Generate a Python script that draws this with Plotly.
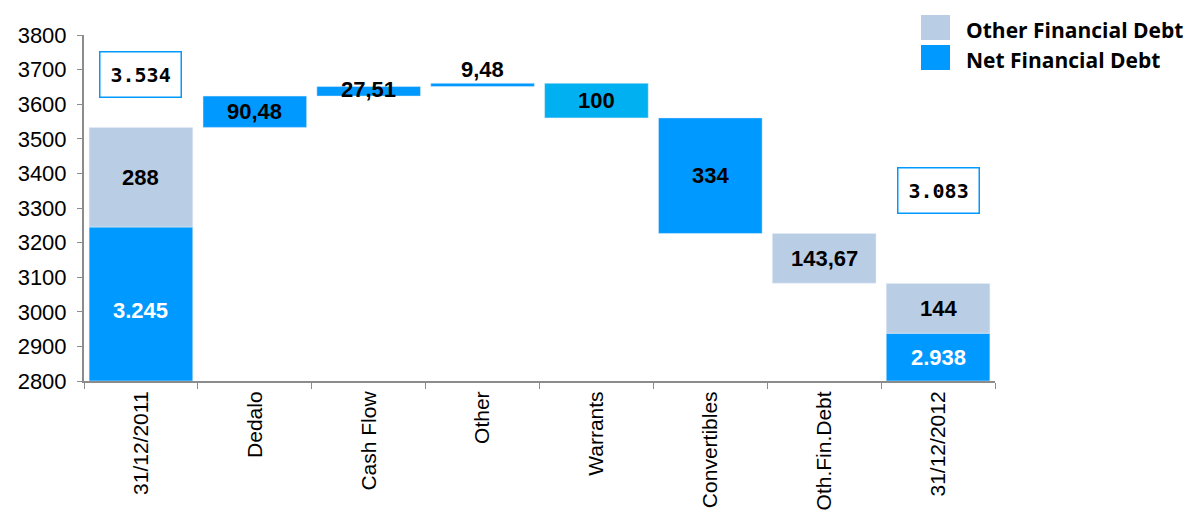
import plotly.graph_objects as go

categories = ["31/12/2011", "Dedalo", "Cash Flow", "Other", "Warrants",
              "Convertibles", "Oth.Fin.Debt", "31/12/2012"]
start_nfd = 3245
start_ofd = 288
start_total_label = "3.534"
changes = [90.48, 27.51, 9.48, -100, -334, -143.67]
change_labels = ["90,48", "27,51", "9,48", "100", "334", "143,67"]
end_nfd = 2938
end_ofd = 144
end_total_label = "3.083"
start_labels = ["3.245", "288"]
end_labels = ["2.938", "144"]

BLUE = "#0099FF"
LIGHT = "#B9CDE5"
CYAN = "#00B0F0"
change_colors = [BLUE, BLUE, BLUE, CYAN, BLUE, LIGHT]

axis_min = 2800

fig = go.Figure()

fig.add_trace(go.Bar(x=[categories[0]], y=[start_nfd - axis_min], base=[axis_min],
                     marker_color=BLUE, width=0.91, showlegend=False, hoverinfo="skip"))
fig.add_trace(go.Bar(x=[categories[0]], y=[start_ofd], base=[start_nfd],
                     marker_color=LIGHT, width=0.91, showlegend=False, hoverinfo="skip"))

level = start_nfd + start_ofd
bases, heights = [], []
for c in changes:
    lo = min(level, level + c)
    bases.append(lo)
    heights.append(abs(c))
    level += c
fig.add_trace(go.Bar(x=categories[1:7], y=heights, base=bases,
                     marker_color=change_colors, width=0.91, showlegend=False, hoverinfo="skip"))

fig.add_trace(go.Bar(x=[categories[7]], y=[end_nfd - axis_min], base=[axis_min],
                     marker_color=BLUE, width=0.91, showlegend=False, hoverinfo="skip"))
fig.add_trace(go.Bar(x=[categories[7]], y=[end_ofd], base=[end_nfd],
                     marker_color=LIGHT, width=0.91, showlegend=False, hoverinfo="skip"))

lab_font = dict(family="Liberation Sans, Arial", size=22, color="black")
ann = []
ann.append(dict(x=categories[0], y=(axis_min + start_nfd) / 2 - 20, text="<b>" + start_labels[0] + "</b>",
                showarrow=False, font=dict(lab_font, color="white")))
ann.append(dict(x=categories[0], y=start_nfd + start_ofd / 2, text="<b>" + start_labels[1] + "</b>",
                showarrow=False, font=lab_font))
for i, (b, h, t) in enumerate(zip(bases, heights, change_labels)):
    if h < 20:
        ann.append(dict(x=categories[i + 1], y=b + h, text="<b>" + t + "</b>", showarrow=False,
                        font=lab_font, yanchor="bottom", yshift=-1))
    elif h < 40:
        ann.append(dict(x=categories[i + 1], y=b + h / 2, text="<b>" + t + "</b>", showarrow=False,
                        font=lab_font, yshift=2))
    else:
        ann.append(dict(x=categories[i + 1], y=b + h / 2, text="<b>" + t + "</b>", showarrow=False,
                        font=lab_font))
ann.append(dict(x=categories[7], y=(axis_min + end_nfd) / 2, text="<b>" + end_labels[0] + "</b>",
                showarrow=False, font=dict(lab_font, color="white")))
ann.append(dict(x=categories[7], y=end_nfd + end_ofd / 2, text="<b>" + end_labels[1] + "</b>",
                showarrow=False, font=lab_font))

box_font = dict(family="DejaVu Sans Mono", size=20, color="black")
ann.append(dict(x=categories[0], y=3687, text="<b>" + start_total_label + "</b>", showarrow=False,
                font=box_font, bordercolor=BLUE, borderwidth=1.5, borderpad=10, bgcolor="white"))
ann.append(dict(x=categories[7], y=3350, text="<b>" + end_total_label + "</b>", showarrow=False,
                font=box_font, bordercolor=BLUE, borderwidth=1.5, borderpad=10, bgcolor="white"))

# page offset (body margin) is 8px; plot area spans x 84..995, y 35..381 on screen
L, T, R, B = 76, 27, 200, 146
PW = 1187 - L - R
PH = 519 - T - B

def px(xs):
    return (xs - 8 - L) / PW

def py(ys):
    return (519 + 8 - B - ys) / PH

leg_font = dict(family="Open Sans", size=21, color="black")
shapes = [
    dict(type="rect", xref="paper", yref="paper", x0=px(921), x1=px(950),
         y0=py(40), y1=py(15), fillcolor=LIGHT, line_width=0),
    dict(type="rect", xref="paper", yref="paper", x0=px(921), x1=px(950),
         y0=py(70), y1=py(45), fillcolor=BLUE, line_width=0),
]
ann.append(dict(xref="paper", yref="paper", x=px(964), y=py(30),
                text="<b>Other Financial Debt</b>", showarrow=False, xanchor="left",
                yanchor="middle", font=leg_font))
ann.append(dict(xref="paper", yref="paper", x=px(964), y=py(60),
                text="<b>Net Financial Debt</b>", showarrow=False, xanchor="left",
                yanchor="middle", font=leg_font))

fig.update_layout(
    width=1187, height=519,
    margin=dict(l=L, r=R, t=T, b=B),
    paper_bgcolor="white", plot_bgcolor="white",
    barmode="overlay", bargap=0.09,
    annotations=ann, shapes=shapes,
    showlegend=False,
    xaxis=dict(type="category", tickangle=-90, showgrid=False, showline=True, automargin=False,
               linecolor="#8C8C8C", linewidth=2, ticks="outside", ticklen=6, tickcolor="#8C8C8C",
               tickson="boundaries",
               tickfont=dict(family="Liberation Sans, Arial", size=21, color="black")),
    yaxis=dict(range=[2800, 3800], dtick=100, showgrid=False, showline=True, automargin=False,
               linecolor="#8C8C8C", linewidth=2, ticks="outside", ticklen=5, tickcolor="#8C8C8C",
               zeroline=False, ticklabelstandoff=6,
               tickfont=dict(family="Liberation Sans, Arial", size=22, color="black")),
)

fig.write_html("out.html")
